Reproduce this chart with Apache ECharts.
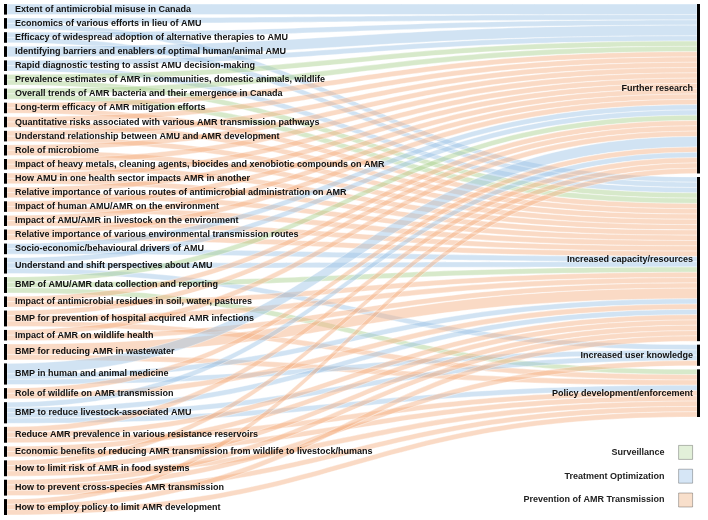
<!DOCTYPE html>
<html>
<head>
<meta charset="utf-8">
<script src="https://cdn.jsdelivr.net/npm/echarts@6/dist/echarts.min.js"></script>
<style>
  html, body { margin: 0; padding: 0; background: #fff; }
  #chart { width: 708px; height: 520px; }
</style>
</head>
<body>
<div id="chart"></div>
<script>
// research questions (left column), top to bottom
const questions = [
  'Extent of antimicrobial misuse in Canada',
  'Economics of various efforts in lieu of AMU',
  'Efficacy of widespread adoption of alternative therapies to AMU',
  'Identifying barriers and enablers of optimal human/animal AMU',
  'Rapid diagnostic testing to assist AMU decision-making',
  'Prevalence estimates of AMR in communities, domestic animals, wildlife',
  'Overall trends of AMR bacteria and their emergence in Canada',
  'Long-term efficacy of AMR mitigation efforts',
  'Quantitative risks associated with various AMR transmission pathways',
  'Understand relationship between AMU and AMR development',
  'Role of microbiome',
  'Impact of heavy metals, cleaning agents, biocides and xenobiotic compounds on AMR',
  'How AMU in one health sector impacts AMR in another',
  'Relative importance of various routes of antimicrobial administration on AMR',
  'Impact of human AMU/AMR on the environment',
  'Impact of AMU/AMR in livestock on the environment',
  'Relative importance of various environmental transmission routes',
  'Socio-economic/behavioural drivers of AMU',
  'Understand and shift perspectives about AMU',
  'BMP of AMU/AMR data collection and reporting',
  'Impact of antimicrobial residues in soil, water, pastures',
  'BMP for prevention of hospital acquired AMR infections',
  'Impact of AMR on wildlife health',
  'BMP for reducing AMR in wastewater',
  'BMP in human and animal medicine',
  'Role of wildlife on AMR transmission',
  'BMP to reduce livestock-associated AMU',
  'Reduce AMR prevalence in various resistance reservoirs',
  'Economic benefits of reducing AMR transmission from wildlife to livestock/humans',
  'How to limit risk of AMR in food systems',
  'How to prevent cross-species AMR transmission',
  'How to employ policy to limit AMR development'
];

// 0 = Surveillance, 1 = Treatment Optimization, 2 = Prevention of AMR Transmission
const questionCategory = [1, 1, 1, 1, 1, 0, 0, 2, 2, 2, 2, 2, 2, 2, 2, 2, 2, 1, 1, 0,
  2, 2, 2, 2, 1, 2, 1, 2, 2, 2, 2, 2];

const categories = ['Surveillance', 'Treatment Optimization', 'Prevention of AMR Transmission'];

const outcomes = [
  'Further research',
  'Increased capacity/resources',
  'Increased user knowledge',
  'Policy development/enforcement'
];

// number of links from each question to each outcome (same order as outcomes)
const linkCounts = [
  [2, 0, 0, 0], [1, 1, 0, 0], [1, 1, 0, 0], [2, 0, 0, 0], [1, 1, 0, 0],
  [1, 1, 0, 0], [1, 1, 0, 0],
  [1, 1, 0, 0], [1, 1, 0, 0], [1, 1, 0, 0], [1, 1, 0, 0], [1, 1, 0, 0],
  [1, 1, 0, 0], [1, 1, 0, 0], [1, 1, 0, 0], [1, 1, 0, 0], [1, 1, 0, 0],
  [1, 1, 0, 0], [1, 1, 1, 0], [1, 1, 0, 1],
  [1, 1, 0, 0], [1, 1, 0, 1], [1, 1, 0, 0], [0, 2, 0, 1],
  [2, 1, 1, 0], [1, 1, 0, 0], [1, 1, 1, 1],
  [1, 1, 0, 1], [0, 1, 0, 1], [1, 1, 0, 1], [0, 1, 1, 1], [1, 1, 0, 1]
];

const catColors = ['#a9d18e', '#9dc3e6', '#f4b183'];
const legendColors = ['#e2f0d9', '#d6e6f6', '#f8dfcb'];

let nodes = []
questions.forEach(q => nodes.push({ name: q, depth: 0 }))
outcomes.forEach(o => nodes.push({
  name: o,
  depth: 1,
  label: { position: 'left', distance: 4 }
}))

let links = []
linkCounts.forEach((row, i) => {
  row.forEach((v, j) => {
    if (v > 0) {
      links.push({
        source: questions[i],
        target: outcomes[j],
        value: v,
        lineStyle: { color: catColors[questionCategory[i]] }
      })
    }
  })
})

// empty series only to feed the legend
let legendSeries = categories.map((c, k) => ({
  name: c,
  type: 'bar',
  data: [],
  itemStyle: { color: legendColors[k] }
}))

let chart = echarts.init(document.getElementById('chart'))
chart.setOption({
  animation: false,
  grid: { left: 0, top: 0, width: 1, height: 1, show: false },
  xAxis: { show: false, type: 'category' },
  yAxis: { show: false, type: 'value' },
  legend: {
    data: categories,
    orient: 'vertical',
    right: 10,
    top: 440,
    align: 'right',
    icon: 'rect',
    itemWidth: 14,
    itemHeight: 14,
    itemGap: 9,
    itemStyle: { borderColor: 'rgba(0,0,0,0.35)', borderWidth: 0.8 },
    selectedMode: false,
    textStyle: {
      fontFamily: 'Liberation Sans',
      fontWeight: 'bold',
      fontSize: 9,
      color: '#222',
      padding: [0, 9, 0, 0]
    }
  },
  series: [{
    type: 'sankey',
    left: 4,
    right: 8,
    top: 4,
    bottom: 5,
    nodeWidth: 3,
    nodeGap: 3.5,
    layoutIterations: 0,
    draggable: false,
    emphasis: { disabled: true },
    data: nodes,
    links: links,
    itemStyle: { color: '#000', borderWidth: 0 },
    lineStyle: {
      opacity: 0.47,
      curveness: 0.5,
      borderColor: '#fff',
      borderWidth: 0.8
    },
    label: {
      position: 'right',
      distance: 8,
      color: '#111',
      fontFamily: 'Liberation Sans',
      fontWeight: 'bold',
      fontSize: 9
    }
  }].concat(legendSeries)
})
</script>
</body>
</html>
